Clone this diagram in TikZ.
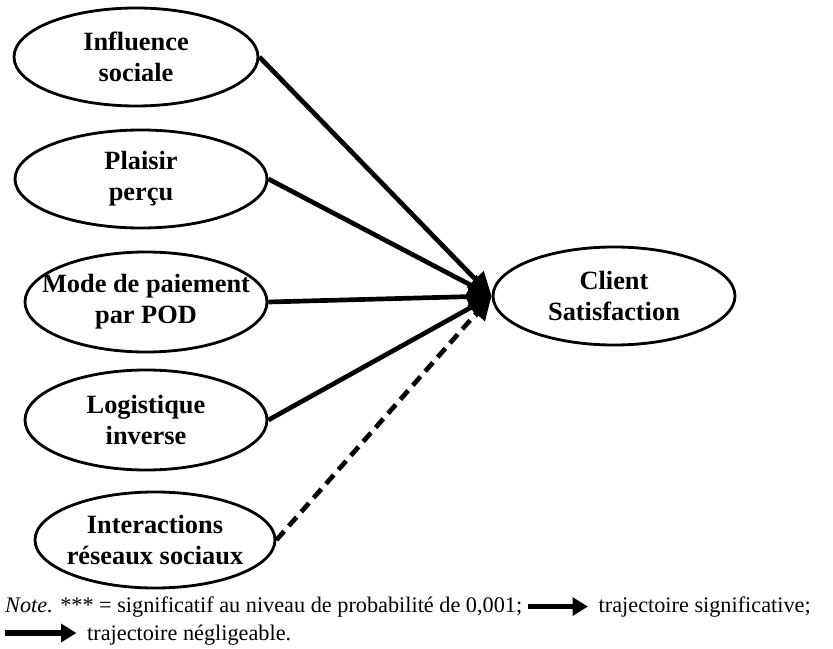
\documentclass[tikz,border=0pt]{standalone}
\usepackage{fontspec}
\setmainfont{Liberation Serif}
\usetikzlibrary{shapes.geometric,arrows.meta,positioning}

\begin{document}
\begin{tikzpicture}[
  varbox/.style={ellipse,draw,line width=2.4pt,minimum height=2.94cm,inner sep=0pt},
  vartxt/.style={font=\fontsize{22.5}{26.5}\selectfont\bfseries,align=center},
  path/.style={line width=4pt,-{Triangle[length=20pt,width=19pt]}},
  legarrow/.style={line width=5pt,-{Triangle[length=13pt,width=15pt]}},
  notetxt/.style={font=\fontsize{19}{22}\selectfont,inner sep=0pt}
]
\def\s{0.03}
\useasboundingbox (0,0) rectangle ({833*\s},{-649*\s});
% ---- variables explicatives (colonne de gauche) ----
\node[varbox,minimum width=7.32cm,label={[vartxt]center:{Influence\\sociale}}]
  (infl) at ({136*\s},{-57*\s}) {};
\node[varbox,minimum width=7.56cm,label={[vartxt]center:{Plaisir\\perçu}}]
  (plaisir) at ({141*\s},{-179*\s}) {};
\node[varbox,minimum width=7.26cm,minimum height=3cm,label={[vartxt]center:{Mode de paiement\\par POD}}]
  (mode) at ({146*\s},{-302*\s}) {};
\node[varbox,minimum width=7.26cm,minimum height=3cm,label={[vartxt]center:{Logistique\\inverse}}]
  (logi) at ({146*\s},{-420*\s}) {};
\node[varbox,minimum width=7.2cm,minimum height=2.88cm,label={[vartxt]center:{Interactions\\réseaux sociaux}}]
  (inter) at ({155*\s},{-540*\s}) {};
% ---- variable dépendante ----
\node[varbox,minimum width=7.26cm,label={[vartxt]center:{Client\\Satisfaction}}]
  (client) at ({614*\s},{-296*\s}) {};
% ---- trajectoires : significatives en trait plein, négligeable en tirets ----
\foreach \v in {infl,plaisir,mode,logi}{
  \draw[path] (\v.east) -- (client.west);
}
\draw[path,dash pattern=on 10pt off 6pt] (inter.east) -- (client.west);
% ---- note sous la figure ----
\node[notetxt,anchor=base west] (note1) at ({5*\s},{-612*\s})
  {\textit{Note.} *** = significatif au niveau de probabilité de 0,001;};
\node[notetxt,base right=76*\s cm of note1] (sig)
  {trajectoire significative;};
\draw[legarrow] ([xshift=5pt]note1.east) -- ([xshift=-9pt]sig.west);
\node[notetxt,anchor=base west] (negl) at ({87*\s},{-640*\s})
  {trajectoire négligeable.};
\coordinate (legstart) at ({5*\s},{-633*\s});
\draw[legarrow] (legstart) -- ([xshift=-9pt]negl.west |- legstart);
\end{tikzpicture}
\end{document}
